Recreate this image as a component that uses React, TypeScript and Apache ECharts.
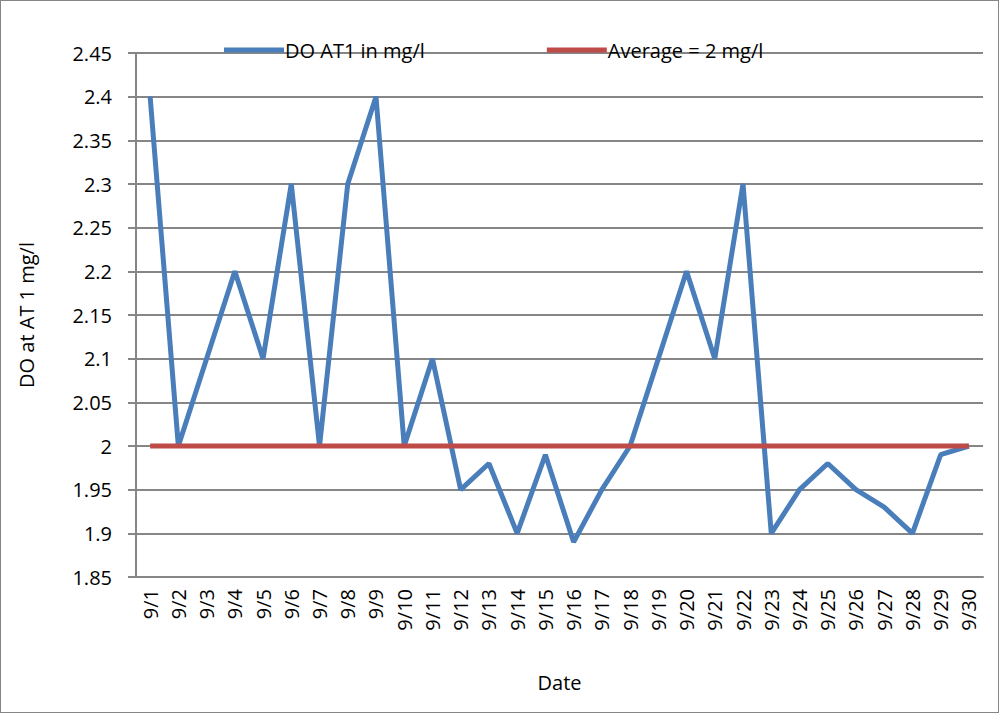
import React, { useEffect, useRef } from "react";
import * as echarts from "echarts";

const dates = Array.from({ length: 30 }, (_, i) => `9/${i + 1}`);
const doValues = [2.4, 2.0, 2.1, 2.2, 2.1, 2.3, 2.0, 2.3, 2.4, 2.0, 2.1, 1.95, 1.98, 1.9, 1.99, 1.89, 1.95, 2.0, 2.1, 2.2, 2.1, 2.3, 1.9, 1.95, 1.98, 1.95, 1.93, 1.9, 1.99, 2.0];
const averageValues = dates.map(() => 2);

const font = "'Open Sans', 'Noto Sans', sans-serif";

const App: React.FC = () => {
    const chartRef = useRef<HTMLDivElement>(null);

    useEffect(() => {
        if (!chartRef.current) return;
        const chart = echarts.init(chartRef.current, null, { renderer: "svg" });
        chart.setOption({
            animation: false,
            backgroundColor: "#fff",
            textStyle: { fontFamily: font },
            grid: { left: 135, right: 15, top: 52, bottom: 135 },
            legend: {
                top: 34,
                left: 218,
                itemGap: 122,
                itemWidth: 60,
                itemHeight: 5,
                icon: "rect",
                textStyle: { fontSize: 20, color: "#000", fontFamily: font, padding: [0, 0, 0, -4] },
                data: ["DO AT1 in mg/l", "Average = 2 mg/l"],
            },
            xAxis: {
                type: "category",
                data: dates,
                name: "Date",
                nameLocation: "middle",
                nameGap: 95,
                nameTextStyle: { fontSize: 20, color: "#000" },
                axisLine: { lineStyle: { color: "#868686", width: 2 } },
                axisTick: { show: false },
                axisLabel: { rotate: 90, fontSize: 20, color: "#000", interval: 0, margin: 12 },
            },
            yAxis: {
                type: "value",
                min: 1.85,
                max: 2.45,
                interval: 0.05,
                name: "DO at AT 1 mg/l",
                nameLocation: "middle",
                nameGap: 100,
                nameTextStyle: { fontSize: 20, color: "#000" },
                axisLine: { show: true, lineStyle: { color: "#868686", width: 2 } },
                axisTick: { show: true, length: 8, lineStyle: { color: "#868686", width: 2 } },
                axisLabel: {
                    fontSize: 20,
                    color: "#000",
                    margin: 24,
                    formatter: (v: number) => String(parseFloat(v.toFixed(2))),
                },
                splitLine: { lineStyle: { color: "#868686", width: 2 } },
            },
            series: [
                {
                    name: "DO AT1 in mg/l",
                    type: "line",
                    data: doValues,
                    symbol: "none",
                    lineStyle: { color: "#4a7ebb", width: 5 },
                    itemStyle: { color: "#4a7ebb" },
                    z: 2,
                },
                {
                    name: "Average = 2 mg/l",
                    type: "line",
                    data: averageValues,
                    symbol: "none",
                    lineStyle: { color: "#be4b48", width: 5 },
                    itemStyle: { color: "#be4b48" },
                    z: 3,
                },
            ],
        });
        return () => chart.dispose();
    }, []);

    return (
        <div
            ref={chartRef}
            style={{ width: 997, height: 711, border: "1px solid #868686", position: "absolute", left: 0, top: 0 }}
        />
    );
};

export default App;
